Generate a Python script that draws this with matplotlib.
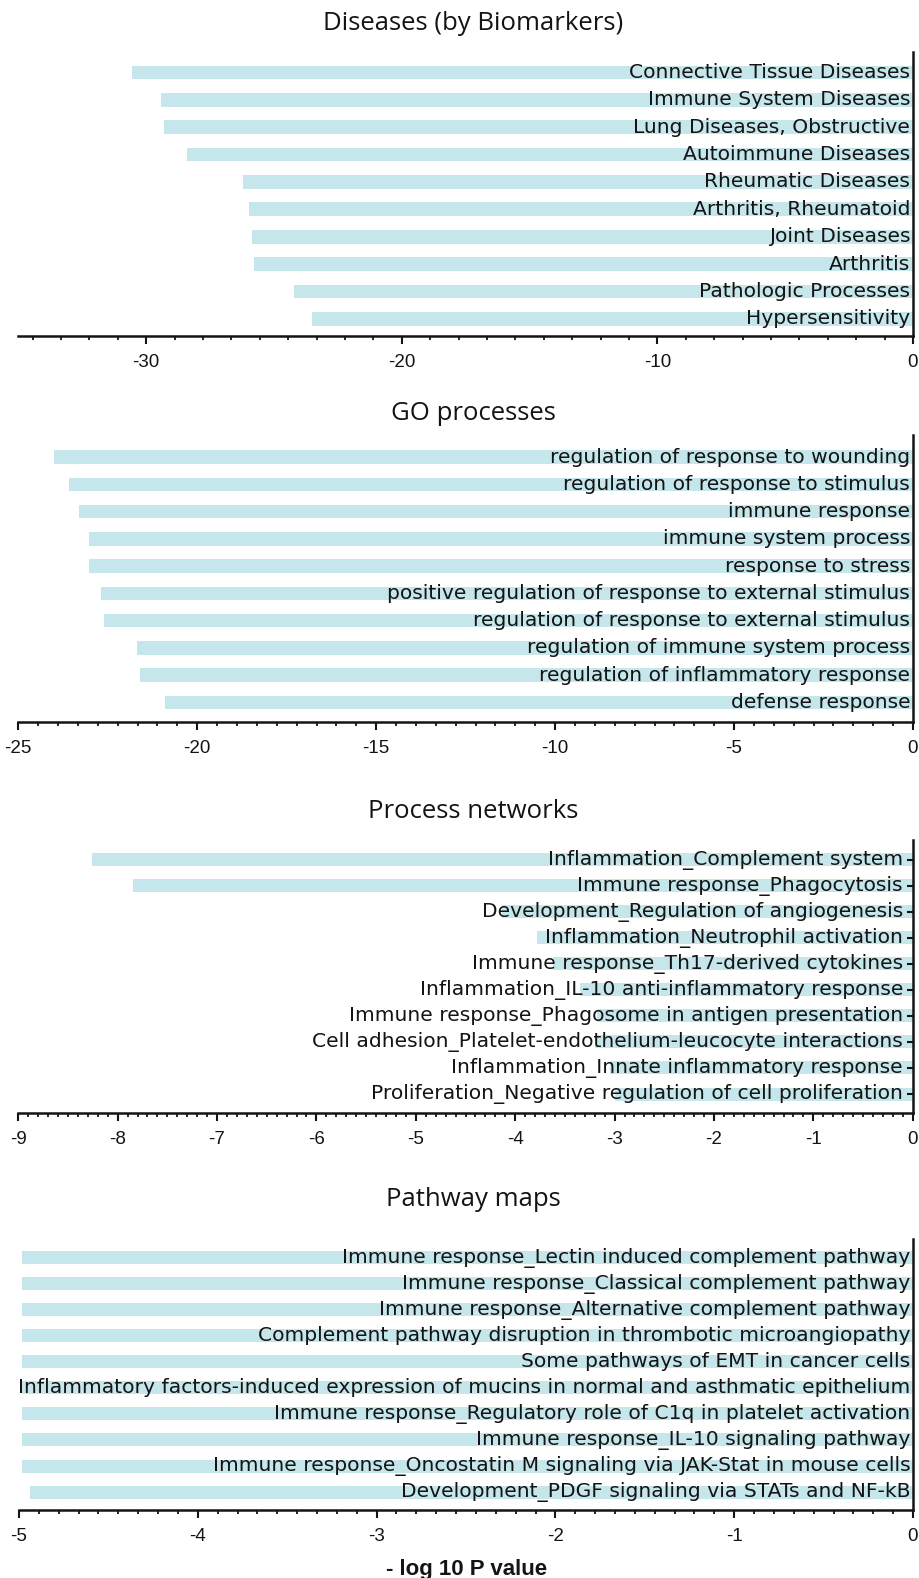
import matplotlib
matplotlib.use("Agg")
import matplotlib.pyplot as plt
from matplotlib.ticker import MultipleLocator, AutoMinorLocator

plt.rcParams["axes.unicode_minus"] = False

# ------------------------------------------------------------
# DATA (-log10 P plotted to the left)
# ------------------------------------------------------------

disease_names = [
    "Connective Tissue Diseases",
    "Immune System Diseases",
    "Lung Diseases, Obstructive",
    "Autoimmune Diseases",
    "Rheumatic Diseases",
    "Arthritis, Rheumatoid",
    "Joint Diseases",
    "Arthritis",
    "Pathologic Processes",
    "Hypersensitivity",
]
disease_vals = [-30.56, -29.41, -29.29, -28.39, -26.20, -25.99, -25.84, -25.77, -24.20, -23.53]

go_names = [
    "regulation of response to wounding",
    "regulation of response to stimulus",
    "immune response",
    "immune system process",
    "response to stress",
    "positive regulation of response to external stimulus",
    "regulation of response to external stimulus",
    "regulation of immune system process",
    "regulation of inflammatory response",
    "defense response",
]
go_vals = [-23.99, -23.57, -23.29, -23.03, -23.02, -22.69, -22.61, -21.68, -21.61, -20.91]

network_names = [
    "Inflammation_Complement system",
    "Immune response_Phagocytosis",
    "Development_Regulation of angiogenesis",
    "Inflammation_Neutrophil activation",
    "Immune response_Th17-derived cytokines",
    "Inflammation_IL-10 anti-inflammatory response",
    "Immune response_Phagosome in antigen presentation",
    "Cell adhesion_Platelet-endothelium-leucocyte interactions",
    "Inflammation_Innate inflammatory response",
    "Proliferation_Negative regulation of cell proliferation",
]
network_vals = [-8.26, -7.85, -4.13, -3.78, -3.62, -3.35, -3.18, -3.20, -3.05, -3.00]

pathway_names = [
    "Immune response_Lectin induced complement pathway",
    "Immune response_Classical complement pathway",
    "Immune response_Alternative complement pathway",
    "Complement pathway disruption in thrombotic microangiopathy",
    "Some pathways of EMT in cancer cells",
    "Inflammatory factors-induced expression of mucins in normal and asthmatic epithelium",
    "Immune response_Regulatory role of C1q in platelet activation",
    "Immune response_IL-10 signaling pathway",
    "Immune response_Oncostatin M signaling via JAK-Stat in mouse cells",
    "Development_PDGF signaling via STATs and NF-kB",
]
pathway_vals = [-4.985, -4.985, -4.985, -4.985, -4.985, -4.985, -4.985, -4.985, -4.985, -4.94]

# ------------------------------------------------------------
# STYLE
# ------------------------------------------------------------

W, H = 920, 1578
BAR = "#c5e6ea"
INK = "#141414"
LABEL_FONT = "DejaVu Sans"
TICK_FONT = "Liberation Sans"
TITLE_FONT = "Open Sans"


def px_rect(left, top, right, bottom):
    # pixel box -> figure fraction rect
    return [left / W, 1 - bottom / H, (right - left) / W, (bottom - top) / H]


def draw_panel(fig, rect, names, vals, xmin, major, minor_n, ylims,
               title, title_y, yticks=False, pad=2.0):
    ax = fig.add_axes(rect)
    ypos = list(range(len(names)))
    ax.barh(ypos, vals, height=0.5, color=BAR, zorder=1)

    for y, name in zip(ypos, names):
        ax.annotate(name, xy=(0, y), xytext=(-pad, 0), textcoords="offset points",
                    ha="right", va="center", fontsize=14.6, family=LABEL_FONT,
                    color=INK, zorder=3)

    ax.set_xlim(xmin, 0)
    ax.set_ylim(*ylims)

    for side in ("top", "left"):
        ax.spines[side].set_visible(False)
    for side in ("bottom", "right"):
        ax.spines[side].set_linewidth(1.8)
        ax.spines[side].set_color(INK)

    ax.xaxis.set_major_locator(MultipleLocator(major))
    ax.xaxis.set_minor_locator(AutoMinorLocator(minor_n))
    ax.tick_params(axis="x", which="major", length=6, width=1.5, pad=7,
                   labelsize=13.5, colors=INK)
    ax.tick_params(axis="x", which="minor", length=3, width=1.3, colors=INK)
    for lab in ax.get_xticklabels():
        lab.set_family(TICK_FONT)

    if yticks:
        ax.set_yticks(ypos)
        ax.tick_params(axis="y", left=False, right=True, labelleft=False,
                       direction="in", length=4, width=1.5, colors=INK)
    else:
        ax.set_yticks([])

    fig.text(473 / W, 1 - title_y / H, title, ha="center", va="center",
             fontsize=18.5, family=TITLE_FONT, color=INK)
    return ax


def main():
    fig = plt.figure(figsize=(W / 100, H / 100), dpi=100)

    draw_panel(fig, px_rect(18.3, 51.7, 913, 336), disease_names, disease_vals,
               -35, 10, 9, (9.63, -0.76), "Diseases (by Biomarkers)", 24)

    draw_panel(fig, px_rect(18.3, 435, 913, 721.7), go_names, go_vals,
               -25, 5, 9, (9.71, -0.81), "GO processes", 414)

    draw_panel(fig, px_rect(18.3, 840, 912.7, 1113.3), network_names, network_vals,
               -9, 1, 10, (9.74, -0.75), "Process networks", 811, yticks=True, pad=7)

    draw_panel(fig, px_rect(19, 1239.3, 913, 1510), pathway_names, pathway_vals,
               -5, 1, 9, (9.69, -0.71), "Pathway maps", 1199)

    fig.text(467 / W, 1 - 1569 / H, "- log 10 P value", ha="center", va="center",
             fontsize=16, fontweight="bold", family=TICK_FONT, color=INK)

    fig.savefig("out.png", dpi=100)


if __name__ == "__main__":
    main()
